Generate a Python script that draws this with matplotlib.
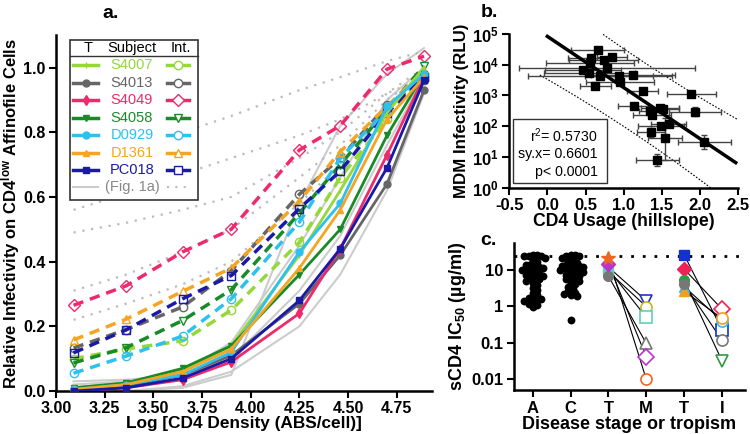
import numpy as np
import matplotlib
matplotlib.use('Agg')
import matplotlib.pyplot as plt
from matplotlib.lines import Line2D
from matplotlib.patches import Rectangle
from matplotlib.ticker import FormatStrFormatter

plt.rcParams['font.family'] = ['Liberation Sans', 'DejaVu Sans']
plt.rcParams['mathtext.fontset'] = 'custom'
plt.rcParams['mathtext.rm'] = 'Liberation Sans'
plt.rcParams['mathtext.bf'] = 'Liberation Sans:bold'
plt.rcParams['mathtext.it'] = 'Liberation Sans:italic'

# ---------------- Panel a data ----------------
log_cd4 = [3.09, 3.36, 3.65, 3.90, 4.25, 4.46, 4.70, 4.89]
subjects = ['S4007', 'S4013', 'S4049', 'S4058', 'D0929', 'D1361', 'PC018']
subj_colors = ['#94d83a', '#666666', '#ee2a6b', '#198a28', '#2ec0f0', '#f5a524', '#1a1aa6']
t_markers = ['|', 'o', 'd', 'v', 'o', '^', 's']
int_markers = ['o', 'o', 'D', 'v', 'o', '^', 's']

t_S4007 = [0.010, 0.025, 0.065, 0.14, 0.42, 0.62, 0.86, 1.00]
t_S4013 = [0.005, 0.015, 0.050, 0.11, 0.27, 0.42, 0.64, 0.93]
t_S4049 = [0.000, 0.010, 0.035, 0.09, 0.24, 0.44, 0.73, 0.97]
t_S4058 = [0.010, 0.025, 0.070, 0.14, 0.36, 0.50, 0.79, 0.98]
t_D0929 = [0.005, 0.020, 0.050, 0.12, 0.43, 0.58, 0.88, 0.98]
t_D1361 = [0.005, 0.020, 0.060, 0.13, 0.38, 0.56, 0.84, 0.97]
t_PC018 = [0.000, 0.010, 0.040, 0.10, 0.28, 0.44, 0.69, 0.96]

i_S4007 = [0.100, 0.130, 0.155, 0.25, 0.46, 0.66, 0.84, 0.98]
i_S4013 = [0.133, 0.190, 0.260, 0.372, 0.608, 0.72, 0.884, 0.96]
i_S4049 = [0.265, 0.325, 0.430, 0.500, 0.745, 0.82, 0.995, 1.035]
i_S4058 = [0.087, 0.134, 0.218, 0.313, 0.550, 0.70, 0.870, 1.005]
i_D0929 = [0.055, 0.108, 0.170, 0.285, 0.522, 0.72, 0.870, 0.97]
i_D1361 = [0.158, 0.222, 0.308, 0.380, 0.587, 0.74, 0.880, 0.99]
i_PC018 = [0.118, 0.189, 0.285, 0.357, 0.564, 0.68, 0.860, 0.97]

fig1a_T1 = [0.00, 0.00, 0.01, 0.05, 0.58, 0.82, 0.98, 1.06]
fig1a_T2 = [0.02, 0.03, 0.06, 0.15, 0.45, 0.66, 0.90, 1.00]
fig1a_T3 = [0.03, 0.035, 0.05, 0.10, 0.31, 0.48, 0.76, 0.97]
fig1a_T4 = [0.00, 0.00, 0.015, 0.06, 0.20, 0.36, 0.62, 0.92]
fig1a_I1 = [0.66, 0.73, 0.80, 0.85, 0.93, 0.97, 1.02, 1.05]
fig1a_I2 = [0.56, 0.61, 0.67, 0.72, 0.79, 0.84, 0.92, 0.97]
fig1a_I3 = [0.49, 0.52, 0.56, 0.60, 0.72, 0.80, 0.92, 1.00]
fig1a_I4 = [0.31, 0.36, 0.43, 0.50, 0.66, 0.76, 0.90, 0.98]
fig1a_I5 = [0.22, 0.27, 0.33, 0.40, 0.58, 0.70, 0.87, 0.98]

a_xticks = [3.00, 3.25, 3.50, 3.75, 4.00, 4.25, 4.50, 4.75]
a_yticks = [0.0, 0.2, 0.4, 0.6, 0.8, 1.0]

# ---------------- Panel b data ----------------
b_hill = [0.66, 0.57, 0.74, 0.85, 0.56, 0.47, 0.78, 0.55, 0.69, 0.94, 1.12, 0.95, 0.63, 1.25,
          1.89, 1.13, 1.48, 1.51, 1.35, 1.94, 1.37, 1.59, 1.49, 1.36, 1.54, 2.06, 1.44]
b_hill_err = [0.35, 0.30, 0.45, 0.20, 0.58, 0.50, 1.15, 0.60, 0.95, 0.45, 0.55, 0.45, 0.20, 0.20,
              0.32, 0.20, 0.25, 0.22, 0.15, 0.34, 0.25, 0.23, 0.30, 0.18, 0.22, 0.35, 0.28]
b_rlu = [30200, 16200, 14500, 17400, 11200, 6600, 7800, 5500, 4400, 4400, 4600, 2750, 2040, 1380,
         1120, 440, 400, 355, 310, 300, 230, 115, 100, 66, 41, 30, 8.3]
b_rlu_lo = [0, 0, 0, 0, 0, 0, 0, 0, 0, 0, 0, 0, 0, 0, 200, 0, 0, 0, 0, 90, 0, 0, 0, 20, 33, 12, 3.0]
b_rlu_hi = [0, 0, 0, 0, 0, 0, 0, 0, 0, 0, 0, 0, 0, 0, 250, 0, 0, 0, 0, 110, 0, 0, 0, 20, 140, 22, 4.0]
b_stats = ['r$^2$= 0.5730', 'sy.x= 0.6601', 'p< 0.0001']

# ---------------- Panel c data ----------------
c_A = [26, 26, 25, 25, 24, 21, 19, 17, 15, 14, 13, 12, 11.5, 11, 10.5, 10, 9, 8.5, 8, 7.5, 7, 6.5,
       6, 5.5, 5, 4.5, 3.8, 3.2, 2.8, 2.4, 2.0, 1.8, 1.7, 1.6, 1.5, 1.4, 1.3, 1.2, 1.1, 0.95]
c_C = [26, 26, 25, 24, 22, 20, 18, 16, 15, 14, 13, 12.5, 12, 11.5, 11, 10.5, 10, 9.5, 9, 8.5, 8,
       7.5, 7, 6.5, 6, 5.5, 5, 4.5, 4, 3.5, 3.1, 2.6, 2.4, 2.2, 2.0, 1.9, 0.42]
c_TM_T = [12, 9, 10.4, 6.8, 14.6, 21]
c_TM_M = [1.43, 0.99, 0.5, 0.096, 0.041, 0.0099]
c_TM_colors = ['#2233cc', '#c8b820', '#66ccbb', '#777777', '#bb33cc', '#ee6622']
c_TM_Tmark = ['v', 'o', 's', 'o', 'D', '*']
c_TM_Mmark = ['v', 'o', 's', '^', 'D', 'o']
c_TI_T = [26, 10.6, 5.3, 3.5, 2.6, 4.0]
c_TI_I = [0.23, 0.84, 0.032, 0.40, 0.47, 0.118]
c_TI_colors = ['#1133cc', '#ee2255', '#339944', '#33bbee', '#f0a020', '#777777']
c_TI_Tmark = ['s', 'D', 'o', '^', '^', 'o']
c_TI_Imark = ['s', 'D', 'v', 'o', 'o', 'o']
c_cutoff = 25
c_cats = ['A', 'C', 'T', 'M', 'T', 'I']

# ---------------- Figure ----------------
fig = plt.figure(figsize=(7.5, 4.34), dpi=100)
axa = fig.add_axes([0.0747, 0.099, 0.501, 0.820])
axb = fig.add_axes([0.679, 0.567, 0.305, 0.355])
axc = fig.add_axes([0.685, 0.101, 0.308, 0.339])

def style(ax, fs):
    for s in ['top', 'right']:
        ax.spines[s].set_visible(False)
    for s in ['left', 'bottom']:
        ax.spines[s].set_linewidth(1.8)
    ax.tick_params(width=1.5, length=5, labelsize=fs, pad=2.5)
    for lab in ax.get_xticklabels() + ax.get_yticklabels():
        lab.set_fontweight('bold')

# Panel a
for g in [fig1a_T1, fig1a_T2, fig1a_T3, fig1a_T4]:
    axa.plot(log_cd4, g, color='#cccccc', lw=1.5, zorder=1)
for g in [fig1a_I1, fig1a_I2, fig1a_I3, fig1a_I4, fig1a_I5]:
    axa.plot(log_cd4, g, color='#bbbbbb', lw=1.6, ls=(0, (1, 3)), zorder=1)

t_series = [t_S4007, t_S4013, t_S4049, t_S4058, t_D0929, t_D1361, t_PC018]
i_series = [i_S4007, i_S4013, i_S4049, i_S4058, i_D0929, i_D1361, i_PC018]
for vals, col, mk in zip(i_series, subj_colors, int_markers):
    axa.plot(log_cd4, vals, color=col, lw=2.5, ls=(0, (3, 2)), marker=mk, ms=6,
             mfc='none', mec=col, mew=1.0, zorder=2)
for vals, col, mk in zip(t_series, subj_colors, t_markers):
    axa.plot(log_cd4, vals, color=col, lw=2.0, marker=mk, ms=5, mfc=col, mec=col, zorder=3)

axa.set_xlim(3.0, 4.93)
axa.set_ylim(0, 1.1)
axa.set_xticks(a_xticks)
axa.set_yticks(a_yticks)
axa.xaxis.set_major_formatter(FormatStrFormatter('%.2f'))
axa.yaxis.set_major_formatter(FormatStrFormatter('%.1f'))
axa.set_xlabel('Log [CD4 Density (ABS/cell)]', fontsize=12.4, fontweight='bold', labelpad=0)
axa.set_ylabel('Relative Infectivity on CD4$^{\\mathbf{low}}$ Affinofile Cells', fontsize=12,
               fontweight='bold')
axa.yaxis.set_label_coords(-0.090, 0.5)
style(axa, 11.5)

# manual legend table for panel a
L, W, B, H = 56.0, 376.0, 391.0, 356.0
def pa(xp, yp):
    return ((xp - L) / W, (B - yp) / H)
x0, y0 = pa(70, 200)
x1, y1 = pa(198, 40)
axa.add_patch(Rectangle((x0, y0), x1 - x0, y1 - y0, transform=axa.transAxes,
                        fc='white', ec='#333333', lw=1.2, zorder=10, clip_on=False))
hx0, hy = pa(70, 56)
hx1, _ = pa(198, 56)
axa.add_line(Line2D([hx0, hx1], [hy, hy], transform=axa.transAxes, color='#333333',
                    lw=1.0, zorder=11))
for txt, xp in [('T', 88), ('Subject', 132), ('Int.', 181)]:
    tx, ty = pa(xp, 48)
    axa.text(tx, ty, txt, transform=axa.transAxes, ha='center', va='center', fontsize=10.5, zorder=12)
row_y = [65, 82.5, 100, 117.5, 135, 152.5, 170]
for yp, name, col, tm, im in zip(row_y, subjects, subj_colors, t_markers, int_markers):
    a0, ry = pa(73, yp)
    a1, _ = pa(98, yp)
    am, _ = pa(85.5, yp)
    axa.add_line(Line2D([a0, a1], [ry, ry], transform=axa.transAxes, color=col, lw=2.5, zorder=12))
    axa.add_line(Line2D([am], [ry], transform=axa.transAxes, color=col, marker=tm, ms=5,
                        mfc=col, mec=col, zorder=13))
    tx, _ = pa(132, yp)
    axa.text(tx, ry, name, transform=axa.transAxes, ha='center', va='center', fontsize=10.5,
             color=col, zorder=12)
    b0, _ = pa(167, yp)
    b1, _ = pa(189, yp)
    bm, _ = pa(178, yp)
    axa.add_line(Line2D([b0, b1], [ry, ry], transform=axa.transAxes, color=col, lw=2.5, zorder=12))
    axa.add_line(Line2D([bm], [ry], transform=axa.transAxes, color=col, marker=im, ms=6,
                        mfc='white', mec=col, mew=1.0, zorder=13))
a0, ry = pa(73, 187)
a1, _ = pa(98, 187)
axa.add_line(Line2D([a0, a1], [ry, ry], transform=axa.transAxes, color='#cccccc', lw=1.5, zorder=12))
tx, _ = pa(132, 187)
axa.text(tx, ry, '(Fig. 1a)', transform=axa.transAxes, ha='center', va='center', fontsize=10.5,
         color='#888888', zorder=12)
b0, _ = pa(167, 187)
b1, _ = pa(189, 187)
axa.add_line(Line2D([b0, b1], [ry, ry], transform=axa.transAxes, color='#bbbbbb', lw=1.5,
                    ls=(0, (1, 3)), zorder=12))

# Panel b
bx = np.array(b_hill)
by = np.array(b_rlu)
ylo = np.array(b_rlu_lo)
yhi = np.array(b_rlu_hi)
axb.set_yscale('log')
axb.errorbar(bx, by, xerr=b_hill_err, yerr=[ylo, yhi], fmt='s', color='black', ms=5.5,
             ecolor='#444444', elinewidth=1.0, capsize=2.5, capthick=1.0, zorder=3)
ly = np.log10(by)
slope, icpt = np.polyfit(bx, ly, 1)
resid = ly - (slope * bx + icpt)
n = len(bx)
syx = np.sqrt(np.sum(resid ** 2) / (n - 2))
xl = np.linspace(0.0, 2.47, 50)
axb.plot(xl, 10 ** (slope * xl + icpt), color='black', lw=2.5, zorder=4)
xb = np.linspace(-0.1, 2.6, 60)
sxx = np.sum((bx - bx.mean()) ** 2)
half = 2.06 * syx * np.sqrt(1 + 1 / n + (xb - bx.mean()) ** 2 / sxx)
axb.plot(xb, 10 ** (slope * xb + icpt + half), color='black', lw=0.8, ls=(0, (1.5, 1.5)))
axb.plot(xb, 10 ** (slope * xb + icpt - half), color='black', lw=0.8, ls=(0, (1.5, 1.5)))
axb.set_xlim(-0.5, 2.5)
axb.set_ylim(1, 1e5)
axb.set_xticks([-0.5, 0.0, 0.5, 1.0, 1.5, 2.0, 2.5])
axb.xaxis.set_major_formatter(FormatStrFormatter('%.1f'))
axb.set_yticks([1, 10, 100, 1e3, 1e4, 1e5])
axb.set_yticklabels(['$\\mathbf{10^{%d}}$' % k for k in range(6)])
axb.yaxis.set_minor_locator(matplotlib.ticker.NullLocator())
axb.set_xlabel('CD4 Usage (hillslope)', fontsize=12.7, fontweight='bold', labelpad=0)
axb.set_ylabel('MDM Infectivity (RLU)', fontsize=12.2, fontweight='bold', labelpad=2)
style(axb, 12)
axb.add_patch(Rectangle((0.017, 0.032), 0.411, 0.416, transform=axb.transAxes,
                        fc='white', ec='#333333', lw=1.0, zorder=5))
for txt, yy in zip(b_stats, [0.338, 0.221, 0.104]):
    axb.text(0.386, yy, txt, transform=axb.transAxes, ha='right', va='center', fontsize=10.2,
             zorder=6)

# Panel c: dot columns laid out as a compact beeswarm (overlap allowed)
def swarm_offsets(vals, r=4.2, px_decade=36.3, px_unit=38.2):
    ys = np.log10(np.array(vals, dtype=float)) * px_decade
    placed = []
    offs = np.zeros(len(ys))
    for i in np.argsort(-ys):
        k = 0
        while True:
            cands = [0.0] if k == 0 else [k * 0.5 * r, -k * 0.5 * r]
            ok = None
            for c in cands:
                if all((c - px) ** 2 + (ys[i] - py) ** 2 >= r * r for px, py in placed):
                    ok = c
                    break
            if ok is not None:
                offs[i] = ok
                placed.append((ok, ys[i]))
                break
            k += 1
    return offs / px_unit

axc.set_yscale('log')
for pos, vals in [(0, c_A), (1, c_C)]:
    xs = pos + swarm_offsets(vals)
    axc.scatter(xs, vals, s=32, color='black', linewidths=0, zorder=3)
axc.axhline(c_cutoff, color='black', lw=2, ls=(0, (1, 3.2)), zorder=1)
for t, m, col, tm, mm in zip(c_TM_T, c_TM_M, c_TM_colors, c_TM_Tmark, c_TM_Mmark):
    axc.plot([2, 3], [t, m], color='black', lw=0.8, zorder=2)
    axc.plot([2], [t], marker=tm, color=col, ms=10 if tm == '*' else 7, mec=col, zorder=4)
    axc.plot([3], [m], marker=mm, color=col, ms=8, mfc='white', mec=col, mew=1.2, zorder=4)
for t, m, col, tm, mm in zip(c_TI_T, c_TI_I, c_TI_colors, c_TI_Tmark, c_TI_Imark):
    axc.plot([4, 5], [t, m], color='black', lw=0.8, zorder=2)
    axc.plot([4], [t], marker=tm, color=col, ms=7, mec=col, zorder=4)
    axc.plot([5], [m], marker=mm, color=col, ms=8, mfc='white', mec=col, mew=1.2, zorder=4)
axc.set_xlim(-0.5, 5.6)
axc.set_ylim(0.005, 55)
axc.set_xticks(range(6))
axc.set_xticklabels(c_cats)
axc.set_yticks([0.01, 0.1, 1, 10])
axc.set_yticklabels(['0.01', '0.1', '1', '10'])
axc.yaxis.set_minor_locator(matplotlib.ticker.NullLocator())
axc.set_xlabel('Disease stage or tropism', fontsize=13, fontweight='bold', labelpad=0)
axc.set_ylabel('sCD4 IC$_{\\mathbf{50}}$ (\u00b5g/ml)', fontsize=13, fontweight='bold', labelpad=2)
style(axc, 12)

fig.text(0.147, 0.968, 'a.', fontsize=14, fontweight='bold', ha='center', va='center')
fig.text(0.653, 0.972, 'b.', fontsize=14, fontweight='bold', ha='center', va='center')
fig.text(0.651, 0.447, 'c.', fontsize=14, fontweight='bold', ha='center', va='center')

fig.savefig('out.png', dpi=100)
